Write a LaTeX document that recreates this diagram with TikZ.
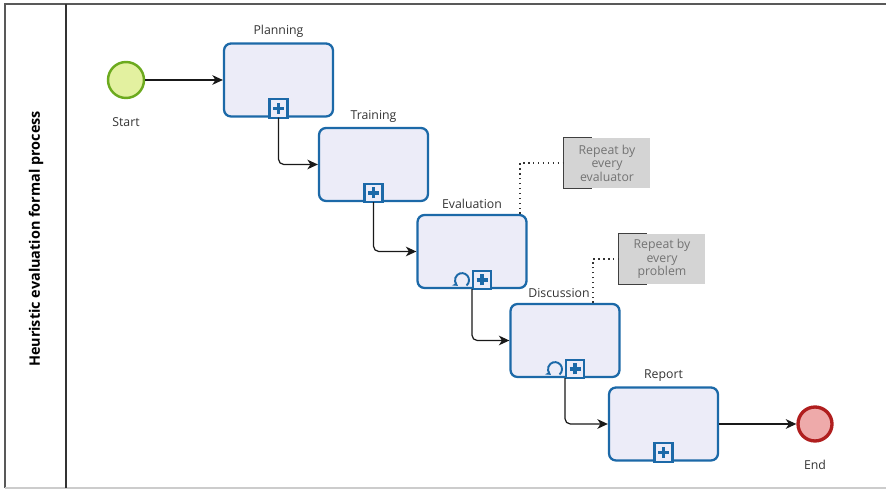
\documentclass[tikz,border=0pt]{standalone}
\usepackage{fontspec}
\setmainfont{Open Sans}
\usetikzlibrary{arrows.meta}
\usetikzlibrary{positioning}

\definecolor{taskblue}{HTML}{1C69A8}
\definecolor{taskfill}{HTML}{ECECF8}
\definecolor{startfill}{HTML}{E3F1A0}
\definecolor{startline}{HTML}{6CAA1E}
\definecolor{endfill}{HTML}{EEAAAA}
\definecolor{endline}{HTML}{B01E1E}

\tikzset{
  pics/plusbox/.style={code={
    \draw[taskblue, line width=1.2pt, fill=taskfill] (-0.18cm,0) rectangle (0.18cm,0.37cm);
    \draw[taskblue, line width=2.1pt] (-0.11cm,0.185cm) -- (0.11cm,0.185cm) (0,0.075cm) -- (0,0.295cm);
  }},
  pics/loopmark/.style={code={
    \draw[taskblue, line width=1.1pt, -{Stealth[length=3pt,width=3.5pt]}] (-50:0.14cm) ++(0,0.18cm) arc (-50:235:0.14cm);
  }}
}

\begin{document}
\begin{tikzpicture}[x=0.02cm,y=0.02cm,
  task/.style={draw=taskblue, fill=taskfill, line width=1.3pt, rounded corners=4pt,
    minimum width=2.18cm, minimum height=1.46cm},
  lbl/.style={font=\fontsize{7}{8}\selectfont, text=black!80, inner sep=1pt},
  note/.style={fill=black!17, text=black!55, font=\fontsize{7}{7.7}\selectfont, align=center,
    minimum width=1.72cm, minimum height=1cm, inner sep=1pt},
  flow/.style={-{Stealth[length=6pt,width=5.5pt,inset=1.8pt]}, black!90, line width=0.7pt},
  assoc/.style={black!80, line width=0.8pt, dotted}
]
\useasboundingbox (0,0) rectangle (886,490);

% pool and lane
\draw[black!65, line width=1.2pt] (903,486) -- (5,486) -- (5,2);
\draw[black!20, line width=0.6pt] (5,2) -- (886,2);
\draw[black!80, line width=0.8pt] (66,486) -- (66,2);
\node[font=\bfseries\fontsize{8.2}{9}\selectfont, rotate=90] (pool) at (36,251) {Heuristic evaluation formal process};

% events
\node[circle, draw=startline, fill=startfill, line width=1.4pt, minimum size=0.72cm] (start) at (126,410) {};
\node[lbl, below=9pt of start] (startl) {Start};
\node[circle, draw=endline, fill=endfill, line width=1.9pt, minimum size=0.68cm] (end) at (815,66) {};
\node[lbl, below=9pt of end] (endl) {End};

% sub-processes
\node[task] (plan) at (278.5,410) {};
\node[task] (train) at (373.5,325.5) {};
\node[task] (eval) at (472,238.5) {};
\node[task] (disc) at (565,149.5) {};
\node[task] (rep) at (663.5,66) {};

\node[lbl, above=1.5pt of plan] (planl) {Planning};
\node[lbl, above=1.5pt of train] (trainl) {Training};
\node[lbl, above=1.5pt of eval] (evall) {Evaluation};
\node[lbl, above=1.5pt of disc, xshift=-0.12cm] (discl) {Discussion};
\node[lbl, above=1.5pt of rep] (repl) {Report};

\pic at (plan.south) {plusbox};
\pic at (train.south) {plusbox};
\pic at ([xshift=0.2cm]eval.south) {plusbox};
\pic at ([xshift=-0.2cm]eval.south) {loopmark};
\pic at ([xshift=0.2cm]disc.south) {plusbox};
\pic at ([xshift=-0.2cm]disc.south) {loopmark};
\pic at (rep.south) {plusbox};

% annotations
\node[note] (note1) at (607,327) {Repeat by\\every\\evaluator};
\node[note] (note2) at (662,231) {Repeat by\\every\\problem};
\foreach \n in {note1,note2}
  \draw[black!75, line width=0.8pt] ([xshift=0.56cm]\n.north west) -- (\n.north west)
    -- (\n.south west) -- ([xshift=0.56cm]\n.south west);
\draw[assoc] ([xshift=0.96cm]eval.north) |- (note1.west);
\draw[assoc] ([xshift=0.56cm]disc.north) |- (note2.west);

% sequence flows
\draw[flow] (start) -- (plan);
\draw[flow, rounded corners=3pt] (plan.south) |- (train.west);
\draw[flow, rounded corners=3pt] (train.south) |- (eval.west);
\draw[flow, rounded corners=3pt] (eval.south) |- (disc.west);
\draw[flow, rounded corners=3pt] (disc.south) |- (rep.west);
\draw[flow] (rep) -- (end);
\end{tikzpicture}
\end{document}
